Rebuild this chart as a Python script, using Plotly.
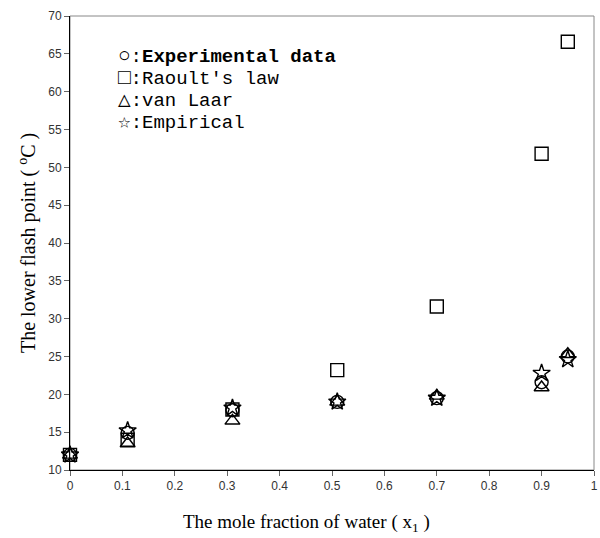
import plotly.graph_objects as go

x_vals = [0.0, 0.11, 0.31, 0.51, 0.70, 0.90, 0.95]
experimental = [12.0, 14.9, 17.9, 19.0, 19.5, 21.6, 25.0]
raoult = [12.0, 14.0, 18.0, 23.2, 31.6, 51.8, 66.6]
van_laar = [12.0, 13.5, 16.5, 19.0, 19.8, 20.9, 25.3]
empirical = [12.0, 15.2, 18.2, 19.0, 19.5, 22.8, 24.6]

legend_symbols = ["○", "□", "△", "☆"]
legend_labels = ["<b>Experimental data</b>", "Raoult's law", "van Laar", "Empirical"]
x_ticks = [0, 0.1, 0.2, 0.3, 0.4, 0.5, 0.6, 0.7, 0.8, 0.9, 1]
x_tick_text = ["0", "0.1", "0.2", "0.3", "0.4", "0.5", "0.6", "0.7", "0.8", "0.9", "1"]
y_ticks = list(range(10, 75, 5))

fig = go.Figure()
series = [
    (raoult, "square-open"),
    (van_laar, "triangle-up-open"),
    (experimental, "circle-open"),
    (empirical, "star-open"),
]
for ys, sym in series:
    fig.add_trace(go.Scatter(
        x=x_vals, y=ys, mode="markers",
        marker=dict(symbol=sym, size=13, color="black", line=dict(width=1.4, color="black")),
        showlegend=False, cliponaxis=False,
    ))

fig.add_shape(type="rect", xref="paper", yref="paper", x0=0, y0=0, x1=1, y1=1,
              line=dict(color="#888888", width=1), layer="below")

for i, (s, t) in enumerate(zip(legend_symbols, legend_labels)):
    fig.add_annotation(
        x=0.088, y=0.91 - i * 0.048, xref="paper", yref="paper",
        text="<span style='font-size:21px'>" + s + "</span>:" + t,
        showarrow=False, xanchor="left", yanchor="middle",
        font=dict(family="Liberation Mono, DejaVu Sans Mono, Noto Sans CJK SC", size=19,
                  color="black"),
    )

fig.add_annotation(
    x=0.451, y=-0.117, xref="paper", yref="paper",
    text="The mole fraction of water ( x<sub>1</sub> )", showarrow=False,
    xanchor="center", yanchor="middle",
    font=dict(family="Liberation Serif, Times New Roman", size=19, color="black"),
)
fig.add_annotation(
    x=-0.082, y=0.5, xref="paper", yref="paper",
    text="The lower flash point ( <sup>o</sup>C )", showarrow=False, textangle=-90,
    xanchor="center", yanchor="middle",
    font=dict(family="Liberation Serif, Times New Roman", size=20, color="black"),
)

fig.update_layout(
    width=600, height=538,
    margin=dict(l=70, r=6, t=16, b=68, autoexpand=False),
    plot_bgcolor="white", paper_bgcolor="white",
    xaxis=dict(
        range=[0, 1], tickvals=x_ticks, ticktext=x_tick_text,
        showgrid=False, zeroline=False, automargin=False,
        showline=True, linecolor="black", linewidth=1,
        ticks="outside", ticklen=5, tickcolor="#666666",
        tickfont=dict(family="Liberation Sans, Arial", size=12, color="#333333"),
    ),
    yaxis=dict(
        range=[10, 70], tickvals=y_ticks,
        showgrid=False, zeroline=False, automargin=False,
        showline=True, linecolor="black", linewidth=1,
        ticks="outside", ticklen=5, tickcolor="#666666",
        tickfont=dict(family="Liberation Sans, Arial", size=12, color="#333333"),
    ),
)

fig.write_html(
    "out.html",
    config={"displayModeBar": False},
    post_script="document.body.style.margin='0';document.body.style.overflow='hidden';",
)
